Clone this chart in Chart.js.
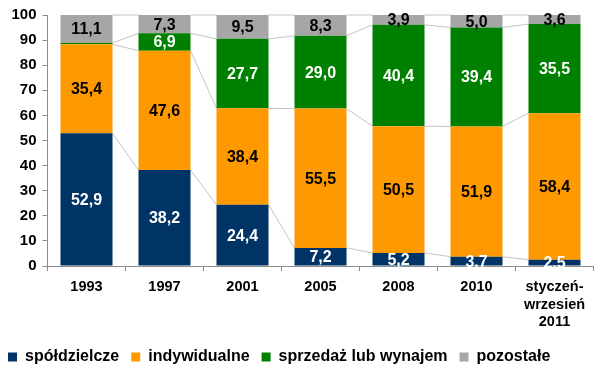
<!DOCTYPE html>
<html>
<head>
<meta charset="utf-8">
<script src="https://cdn.jsdelivr.net/npm/chart.js@4/dist/chart.umd.min.js"></script>
<style>
  html, body { margin: 0; padding: 0; background: #ffffff; }
  #wrap { width: 600px; height: 375px; }
</style>
</head>
<body>
<div id="wrap"><canvas id="c" width="600" height="375"></canvas></div>
<script>
const categories = ['1993', '1997', '2001', '2005', '2008', '2010', ['styczeń-', 'wrzesień', '2011']];
const seriesNames = ['spółdzielcze', 'indywidualne', 'sprzedaż lub wynajem', 'pozostałe'];
const spoldzielcze = [52.9, 38.2, 24.4, 7.2, 5.2, 3.7, 2.5];
const indywidualne = [35.4, 47.6, 38.4, 55.5, 50.5, 51.9, 58.4];
const sprzedazLubWynajem = [0.6, 6.9, 27.7, 29.0, 40.4, 39.4, 35.5];
const pozostale = [11.1, 7.3, 9.5, 8.3, 3.9, 5.0, 3.6];
const yTicks = [0, 10, 20, 30, 40, 50, 60, 70, 80, 90, 100];

const colors = ['#003366', '#FF9900', '#008000', '#A6A6A6'];
const labelColors = ['#ffffff', '#000000', '#ffffff', '#000000'];
const FONT = '"Liberation Sans", Arial, Helvetica, sans-serif';

const seriesValues = [spoldzielcze, indywidualne, sprzedazLubWynajem, pozostale];

const connectorPlugin = {
  id: 'connectors',
  beforeDatasetsDraw(chart) {
    const ctx = chart.ctx;
    ctx.save();
    ctx.strokeStyle = '#C4C4C4';
    ctx.lineWidth = 1;
    chart.data.datasets.forEach((ds, di) => {
      const meta = chart.getDatasetMeta(di);
      const els = meta.data;
      for (let i = 0; i < els.length - 1; i++) {
        const a = els[i].getProps(['x', 'y', 'width'], true);
        const b = els[i + 1].getProps(['x', 'y', 'width'], true);
        ctx.beginPath();
        ctx.moveTo(a.x + a.width / 2, a.y);
        ctx.lineTo(b.x - b.width / 2, b.y);
        ctx.stroke();
      }
    });
    ctx.restore();
  }
};

const labelPlugin = {
  id: 'segLabels',
  afterDatasetsDraw(chart) {
    const ctx = chart.ctx;
    ctx.save();
    ctx.font = 'bold 16px ' + FONT;
    ctx.textAlign = 'center';
    ctx.textBaseline = 'middle';
    chart.data.datasets.forEach((ds, di) => {
      const meta = chart.getDatasetMeta(di);
      meta.data.forEach((el, i) => {
        const v = ds.data[i];
        if (v < 1) return;
        const p = el.getProps(['x', 'y', 'base'], true);
        ctx.fillStyle = labelColors[di];
        ctx.fillText(v.toFixed(1).replace('.', ','), p.x, (p.y + p.base) / 2 + 1);
      });
    });
    ctx.restore();
  }
};

new Chart(document.getElementById('c'), {
  type: 'bar',
  data: {
    labels: categories,
    datasets: seriesNames.map((name, i) => ({
      label: name,
      data: seriesValues[i],
      backgroundColor: colors[i],
      borderColor: colors[i],
      borderWidth: 0,
      barPercentage: 0.667,
      categoryPercentage: 1.0
    }))
  },
  options: {
    responsive: false,
    animation: false,
    devicePixelRatio: 1,
    layout: { padding: { left: -4, right: 6.5, top: 15, bottom: 0 } },
    plugins: {
      tooltip: { enabled: false },
      legend: {
        position: 'bottom',
        align: 'start',
        labels: {
          boxWidth: 9,
          boxHeight: 9,
          padding: 12,
          color: '#000000',
          font: { family: FONT, size: 16, weight: 'bold' }
        }
      }
    },
    scales: {
      x: {
        stacked: true,
        afterFit(scale) { scale.height = 71; },
        grid: { drawOnChartArea: false, drawTicks: true, tickLength: 5, color: '#8C8C8C', offset: true },
        border: { display: true, color: '#8C8C8C', width: 1 },
        ticks: {
          color: '#000000',
          padding: 7,
          maxRotation: 0,
          autoSkip: false,
          font: { family: FONT, size: 14.5, weight: 'bold', lineHeight: 1.22 }
        }
      },
      y: {
        stacked: true,
        min: 0,
        max: 100,
        afterFit(scale) { scale.width = 51.5; },
        afterBuildTicks(scale) { scale.ticks = yTicks.map(v => ({ value: v })); },
        grid: { drawOnChartArea: false, drawTicks: true, tickLength: 5, color: '#8C8C8C' },
        border: { display: true, color: '#8C8C8C', width: 1 },
        ticks: {
          color: '#000000',
          padding: 6,
          font: { family: FONT, size: 15, weight: 'bold' }
        }
      }
    }
  },
  plugins: [connectorPlugin, labelPlugin]
});
</script>
</body>
</html>
